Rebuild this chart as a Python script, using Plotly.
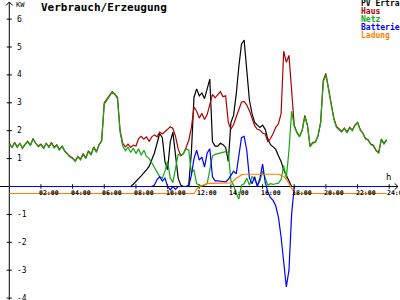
import plotly.graph_objects as go

# ---------------- data (10-minute grid, 0:00 .. 23:50) ----------------
hours = [i / 6 for i in range(144)]

haus = [
    1.55, 1.40, 1.58, 1.42, 1.55, 1.38,
    1.52, 1.62, 1.48, 1.72, 1.55, 1.45,
    1.52, 1.38, 1.55, 1.42, 1.58, 1.40,
    1.50, 1.32, 1.45, 1.28, 1.18, 1.08,
    1.02, 0.92, 1.08, 0.98, 1.18, 1.02,
    1.28, 1.15, 1.42, 1.25, 1.50, 1.65,
    3.00, 3.12, 3.25, 3.40, 3.32, 3.20,
    2.00, 1.55, 1.42, 1.52, 1.40, 1.48,
    1.45, 1.72, 1.80, 1.70, 1.78, 1.62,
    1.78, 1.85, 1.78, 1.95, 1.88, 1.98,
    2.05, 2.14, 2.08, 1.80, 1.35, 1.10,
    1.18, 1.40, 1.65, 2.10, 2.85, 2.70,
    2.45, 2.62, 2.40, 2.58, 2.95, 3.30,
    3.18, 3.28, 3.40, 3.22, 3.25, 2.30,
    2.05, 2.22, 2.50, 2.80, 3.02, 3.05,
    2.92, 2.72, 2.45, 2.18, 2.05, 2.02,
    1.92, 1.88, 1.60, 1.72, 1.90, 2.12,
    2.25, 2.60, 4.85, 4.45, 4.70, 3.50,
    2.20, 1.95, 1.80, 2.02, 2.55, 2.20,
    1.45, 1.58, 1.60, 1.82, 2.30, 3.80,
    4.05, 3.50, 2.90, 2.45, 2.15, 2.05,
    1.98, 2.10, 1.95, 2.12, 2.02, 2.20,
    2.30, 2.05, 1.92, 1.72, 1.68, 1.52,
    1.48, 1.30, 1.22, 1.70, 1.55, 1.68,
]

netz = [
    1.52, 1.40, 1.56, 1.40, 1.55, 1.36,
    1.50, 1.60, 1.46, 1.70, 1.55, 1.42,
    1.50, 1.36, 1.55, 1.40, 1.56, 1.38,
    1.48, 1.30, 1.45, 1.26, 1.16, 1.06,
    1.00, 0.90, 1.06, 0.95, 1.15, 1.00,
    1.25, 1.12, 1.40, 1.22, 1.48, 1.62,
    2.95, 3.10, 3.22, 3.38, 3.30, 3.15,
    1.95, 1.45, 1.28, 1.42, 1.22, 1.38,
    1.18, 1.35, 1.12, 1.30, 1.08, 1.00,
    0.85, 0.68, 0.50, 0.35, 0.30, 0.55,
    0.90, 0.30, 0.15, 0.70, 1.15, 1.12,
    1.18, 1.35, 1.30, 0.50, 0.60, 0.10,
    0.05, 0.02, 0.05, 0.10, 0.60, 1.10,
    1.15, 1.18, 1.20, 1.22, 1.25, 1.22,
    0.20, 0.05, -0.25, -0.45, 0.05, 0.10,
    0.30, 0.05, 0.35, 0.25, 0.05, 0.20,
    0.55, 0.30, 0.05, 0.10, 0.08, 0.10,
    0.12, 0.25, 0.75, 0.30, 1.30, 2.70,
    2.15, 1.92, 1.78, 2.00, 2.50, 2.18,
    1.42, 1.55, 1.58, 1.80, 2.28, 3.75,
    4.00, 3.48, 2.88, 2.42, 2.12, 2.02,
    1.95, 2.08, 1.92, 2.10, 2.00, 2.18,
    2.28, 2.02, 1.90, 1.70, 1.66, 1.50,
    1.45, 1.28, 1.20, 1.68, 1.52, 1.66,
]

# PV yield, 7:30 .. 18:10
pv_start = 7.5
pv_day = [
    0.00, 0.00, 0.08,
    0.20, 0.28, 0.38, 0.48, 0.60, 0.72,
    0.95, 1.20, 1.55, 1.90, 1.75, 0.90,
    0.60, 1.60, 1.95, 1.00, 0.30, 0.05,
    0.00, 0.00, 0.05, 1.20, 3.20, 3.50,
    3.25, 3.35, 3.15, 3.50, 3.85, 1.60,
    1.45, 1.45, 1.55, 1.50, 1.40, 0.90,
    2.30, 2.55, 3.30, 4.30, 5.10, 5.25,
    4.10, 3.10, 2.60, 2.30, 2.20, 2.12,
    2.20, 2.05, 1.70, 1.50, 1.42, 1.33,
    1.10, 0.90, 0.60, 0.38, 0.20, 0.00,
    0.00, 0.00,
]

# battery, 9:00 .. 18:00 (zero otherwise)
bat_start = 9.0
bat_day = [
    0.00, 0.05, 0.25, 0.35, 0.20, 0.30,
    0.00, -0.12, 0.00, -0.10, 0.00, 0.00,
    0.00, 0.00, 0.00, 0.40, 1.00, 1.30,
    0.95, 1.05, 0.70, 1.20, 1.35, 0.35,
    0.20, 0.20, 0.18, 0.18, 0.17, 0.25,
    0.40, 0.55, 0.45, 1.10, 1.75, 1.80,
    1.30, 0.30, 0.10, 0.35, 0.00, 0.30,
    0.80, 0.15, -0.20, -0.40, -0.50, -0.70,
    -1.10, -1.80, -2.80, -3.60, -3.00, -1.00,
    0.00,
]

# charge state, 11:40 .. 18:10 (baseline otherwise)
lad_base = -0.25
lad_start = 11 + 40 / 60
lad_day = [
    -0.25, -0.10,
    0.00, 0.03, 0.08, 0.11, 0.11, 0.11,
    0.11, 0.11, 0.11, 0.11, 0.11, 0.11,
    0.13, 0.20, 0.30, 0.35, 0.42, 0.44,
    0.44, 0.44, 0.44, 0.44, 0.44, 0.44,
    0.44, 0.44, 0.44, 0.44, 0.44, 0.44,
    0.44, 0.40, 0.36, 0.25, 0.12, -0.05,
    -0.20, -0.25,
]

x_ticks = [2, 4, 6, 8, 10, 12, 14, 16, 18, 20, 22, 24]
x_labels = ["02:00", "04:00", "06:00", "08:00", "10:00", "12:00",
            "14:00", "16:00", "18:00", "20:00", "22:00", "24:00"]
y_ticks = [-4, -3, -2, -1, 1, 2, 3, 4, 5, 6]

names = ["PV Ertra", "Haus", "Netz", "Batterie", "Ladung"]
colors = ["#000000", "#b00000", "#10a810", "#0000ff", "#ff8000"]

# ---------------- build series ----------------
i_pv = int(round(pv_start * 6))
pv_x = hours[i_pv:i_pv + len(pv_day)]

i_bat = int(round(bat_start * 6))
bat = [0.0] * i_bat + bat_day + [0.0] * (144 - i_bat - len(bat_day))

i_lad = int(round(lad_start * 6))
lad = [lad_base] * i_lad + lad_day + [lad_base] * (144 - i_lad - len(lad_day))

XMIN, XMAX = -0.587, 24.68
YMIN, YMAX = -4.068, 6.685
LW = 1.2

fig = go.Figure()
fig.add_trace(go.Scatter(x=pv_x, y=pv_day, mode="lines", name=names[0],
                         line=dict(color=colors[0], width=LW)))
fig.add_trace(go.Scatter(x=hours, y=haus, mode="lines", name=names[1],
                         line=dict(color=colors[1], width=LW)))
fig.add_trace(go.Scatter(x=hours, y=netz, mode="lines", name=names[2],
                         line=dict(color=colors[2], width=LW)))
fig.add_trace(go.Scatter(x=hours, y=bat, mode="lines", name=names[3],
                         line=dict(color=colors[3], width=LW)))
fig.add_trace(go.Scatter(x=hours, y=lad, mode="lines", name=names[4],
                         line=dict(color=colors[4], width=LW)))

shapes = []
line_k = dict(color="black", width=1)
# y axis with arrow
shapes.append(dict(type="line", xref="x", yref="y", x0=0, x1=0, y0=YMIN, y1=6.61, line=line_k, layer="below"))
shapes.append(dict(type="line", xref="x", yref="y", x0=0, x1=-0.21, y0=6.61, y1=6.49, line=line_k, layer="below"))
shapes.append(dict(type="line", xref="x", yref="y", x0=0, x1=0.21, y0=6.61, y1=6.49, line=line_k, layer="below"))
# x axis with arrow
shapes.append(dict(type="line", xref="x", yref="y", x0=XMIN, x1=24.55, y0=0, y1=0, line=line_k, layer="below"))
shapes.append(dict(type="line", xref="x", yref="y", x0=24.55, x1=24.34, y0=0, y1=0.115, line=line_k, layer="below"))
shapes.append(dict(type="line", xref="x", yref="y", x0=24.55, x1=24.34, y0=0, y1=-0.115, line=line_k, layer="below"))
for v in y_ticks:
    shapes.append(dict(type="line", xref="x", yref="y", x0=-0.16, x1=0.16, y0=v, y1=v, line=line_k, layer="below"))
for h in x_ticks:
    shapes.append(dict(type="line", xref="x", yref="y", x0=h, x1=h, y0=-0.08, y1=0.08, line=line_k, layer="below"))

mono = "DejaVu Sans Mono"
ann = []
for h, lab in zip(x_ticks, x_labels):
    ann.append(dict(x=h - 0.24, y=-0.25, xref="x", yref="y", text="<b>" + lab + "</b>", showarrow=False,
                    xanchor="left", yanchor="middle",
                    font=dict(family=mono, size=6.5, color="black")))
for v in y_ticks:
    ann.append(dict(x=0.33, y=v, xref="x", yref="y", text=str(v), showarrow=False,
                    xanchor="left", yanchor="middle",
                    font=dict(family=mono, size=8, color="black")))
ann.append(dict(x=14, y=4.5, xref="paper", yref="paper", text="KW", showarrow=False,
                xanchor="left", yanchor="middle", font=dict(family=mono, size=7, color="black")))
ann.append(dict(x=384, y=177, xref="paper", yref="paper", text="h", showarrow=False,
                xanchor="left", yanchor="middle", font=dict(family=mono, size=9, color="black")))
ann.append(dict(x=39, y=8, xref="paper", yref="paper", text="<b>Verbrauch/Erzeugung</b>",
                showarrow=False, xanchor="left", yanchor="middle",
                font=dict(family=mono, size=11, color="black")))
for k, (nm, c) in enumerate(zip(names, colors)):
    ann.append(dict(x=359, y=4 + 7.8 * k, xref="paper", yref="paper", text="<b>" + nm + "</b>",
                    showarrow=False, xanchor="left", yanchor="middle",
                    font=dict(family=mono, size=8, color=c)))

# convert pixel-positioned annotations to paper fractions
for a in ann:
    if a["xref"] == "paper":
        a["x"] = a["x"] / 400
        a["y"] = 1 - a["y"] / 300

fig.update_layout(
    width=400, height=300,
    margin=dict(l=0, r=0, t=0, b=0, pad=0),
    paper_bgcolor="white", plot_bgcolor="white",
    showlegend=False,
    xaxis=dict(range=[XMIN, XMAX], visible=False, fixedrange=True),
    yaxis=dict(range=[YMIN, YMAX], visible=False, fixedrange=True),
    shapes=shapes,
    annotations=ann,
)

fig.write_html("out.html", config={"displayModeBar": False})
